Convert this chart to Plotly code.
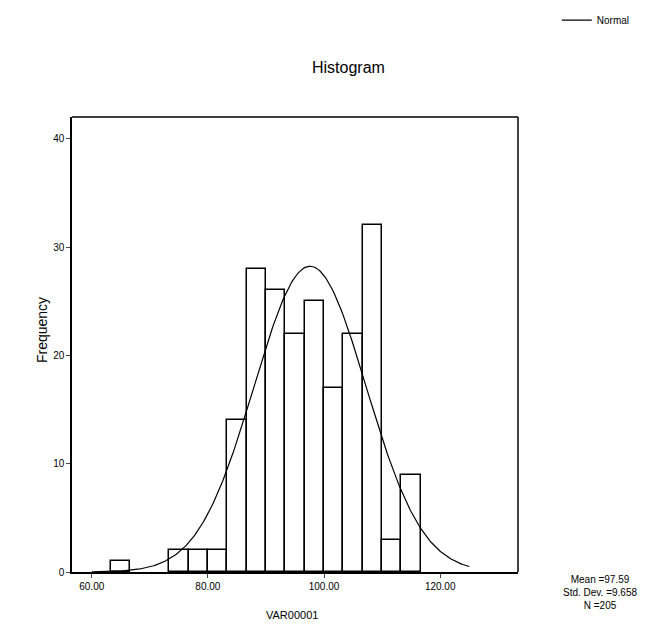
import numpy as np
import plotly.graph_objects as go

# Histogram bins (left edges) and counts
bin_left = [63.33, 73.33, 76.67, 80.00, 83.33, 86.67, 90.00, 93.33, 96.67,
            100.00, 103.33, 106.67, 110.00, 113.33]
counts = [1, 2, 2, 2, 14, 28, 26, 22, 25, 17, 22, 32, 3, 9]
bin_width = 3.333

mean_val = 97.59
sd_val = 9.658
n_val = 205

x_ticks = [60, 80, 100, 120]
x_tick_labels = ["60.00", "80.00", "100.00", "120.00"]
y_ticks = [0, 10, 20, 30, 40]
y_tick_labels = ["0", "10", "20", "30", "40"]

centers = [b + bin_width / 2 for b in bin_left]

fig = go.Figure()
fig.add_trace(go.Bar(
    x=centers, y=counts, width=bin_width,
    marker=dict(color="white", line=dict(color="black", width=1.5)),
    showlegend=False, hoverinfo="x+y"))

xs = np.linspace(60, 125, 300)
ys = n_val * bin_width / (sd_val * np.sqrt(2 * np.pi)) * np.exp(-0.5 * ((xs - mean_val) / sd_val) ** 2)
fig.add_trace(go.Scatter(x=xs, y=ys, mode="lines", name="Normal",
                         line=dict(color="black", width=1.2)))

font_family = "Liberation Sans, Arial, sans-serif"
fig.update_layout(
    width=638, height=620,
    margin=dict(l=64, r=128, t=109, b=56, autoexpand=False),
    plot_bgcolor="white", paper_bgcolor="white",
    font=dict(family=font_family, color="black", size=10),
    bargap=0,
    showlegend=True,
    legend=dict(x=1.087, y=1.213, xanchor="left", yanchor="middle",
                font=dict(size=10), bgcolor="rgba(0,0,0,0)"),
    xaxis=dict(range=[56.6, 133.4], tickvals=x_ticks, ticktext=x_tick_labels,
               ticks="outside", ticklen=4, showline=True, linecolor="black",
               linewidth=1.5, mirror=False, showgrid=False, zeroline=False,
               tickfont=dict(size=10)),
    yaxis=dict(range=[0, 42], tickvals=y_ticks, ticktext=y_tick_labels,
               ticks="outside", ticklen=4, showline=True, linecolor="black",
               linewidth=1.5, showgrid=False, zeroline=False,
               tickfont=dict(size=10)),
    shapes=[
        dict(type="line", xref="paper", yref="paper", x0=0, x1=1, y0=1, y1=1,
             line=dict(color="black", width=1.5)),
        dict(type="line", xref="paper", yref="paper", x0=1, x1=1, y0=0, y1=1,
             line=dict(color="black", width=1.5)),
    ],
    annotations=[
        dict(text="Histogram", xref="paper", yref="paper", x=0.621, y=1.108,
             xanchor="center", yanchor="middle",
             showarrow=False, font=dict(size=16)),
        dict(text="Frequency", xref="paper", yref="paper", x=-0.067, y=0.532,
             xanchor="center", yanchor="middle",
             textangle=-90, showarrow=False, font=dict(size=14)),
        dict(text="VAR00001", xref="paper", yref="paper", x=0.493, y=-0.0945,
             xanchor="center", yanchor="middle",
             showarrow=False, font=dict(size=11)),
        dict(text=f"Mean ={mean_val}<br>Std. Dev. ={sd_val}<br>N ={n_val}",
             xref="paper", yref="paper", x=1.184, y=-0.044, showarrow=False,
             xanchor="center", yanchor="middle",
             align="center", font=dict(size=10)),
    ],
)

fig.write_html("out.html")
